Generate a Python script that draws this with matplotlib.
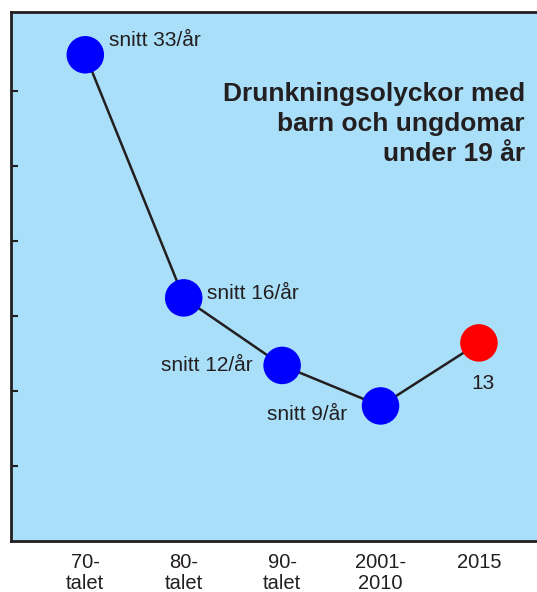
import matplotlib.pyplot as plt

plt.rcParams['font.family'] = ['Liberation Sans', 'DejaVu Sans']

# ---------------------------------------------------------
# Data
# ---------------------------------------------------------
periods = ["70-\ntalet", "80-\ntalet", "90-\ntalet", "2001-\n2010", "2015"]
drownings = [32.4, 16.2, 11.7, 9.0, 13.2]
point_labels = ["snitt 33/år", "snitt 16/år", "snitt 12/år", "snitt 9/år", "13"]
dot_colors = ["#0000ff", "#0000ff", "#0000ff", "#0000ff", "#ff0000"]
y_ticks = [5, 10, 15, 20, 25, 30]
title = "Drunkningsolyckor med\nbarn och ungdomar\nunder 19 år"

# ---------------------------------------------------------
# Figure
# ---------------------------------------------------------
BG = "#a9dff9"
INK = "#231f20"

fig = plt.figure(figsize=(5.37, 5.92), dpi=100)
ax = fig.add_axes([11 / 537, 1 - 541 / 592, 1 - 11 / 537, (541 - 12) / 592])
ax.set_facecolor(BG)

x = list(range(len(periods)))
ax.plot(x, drownings, color=INK, linewidth=1.8, zorder=2)
ax.scatter(x, drownings, s=27 ** 2, c=dot_colors, zorder=3, linewidths=0)

# point annotations: (offset in points, alignment)
offsets = [((17, 10), "left", "center"),
           ((17, 3), "left", "center"),
           ((-21, 0), "right", "center"),
           ((-24, -6), "right", "center"),
           ((3, -29), "center", "center")]
for xi, yi, lab, (off, ha, va) in zip(x, drownings, point_labels, offsets):
    ax.annotate(lab, (xi, yi), xytext=off, textcoords="offset points",
                ha=ha, va=va, fontsize=15, color=INK)

ax.text(0.977, 0.868, title, transform=ax.transAxes, ha="right", va="top",
        fontsize=19, fontweight="bold", color=INK, linespacing=1.33)

ax.set_xlim(-0.755, 4.59)
ax.set_ylim(0, 35.25)
ax.set_xticks(x)
ax.set_xticklabels(periods, fontsize=14.5, color=INK, linespacing=1.12)
ax.set_yticks(y_ticks)
ax.set_yticklabels([])
ax.tick_params(axis="x", length=0, pad=9)
ax.tick_params(axis="y", direction="in", length=5, width=1.5, color=INK)

for side in ["left", "bottom", "top"]:
    ax.spines[side].set_color(INK)
    ax.spines[side].set_linewidth(2)
ax.spines["right"].set_visible(False)

fig.savefig("out.png", dpi=100)
